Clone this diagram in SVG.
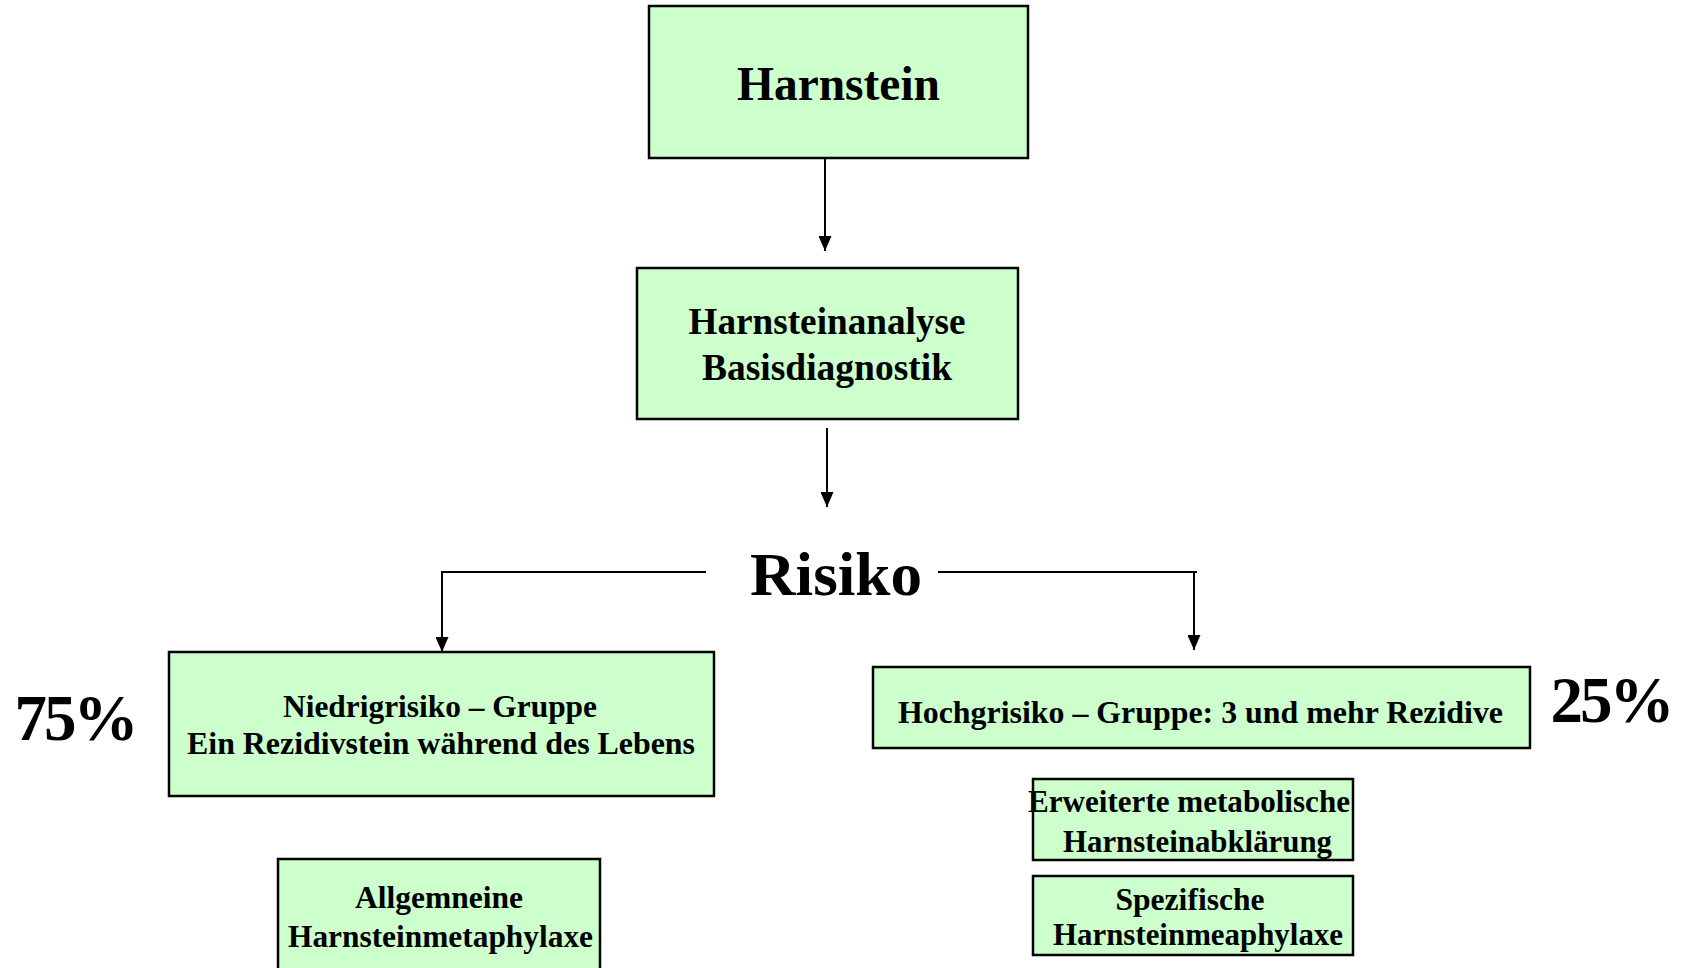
<svg xmlns="http://www.w3.org/2000/svg" width="1693" height="968" viewBox="0 0 1693 968">
<style>
.box{fill:#CCFFCC;stroke:#000;stroke-width:2.5}
.t{font-family:"Liberation Serif","Times New Roman",serif;font-weight:bold;fill:#000;text-anchor:middle}
.s{font-size:31.5px}
.line{fill:none;stroke:#000;stroke-width:2}
.pct{font-size:65px;letter-spacing:-3px}
</style>
<defs>
<marker id="ah" viewBox="0 0 15 13" refX="15" refY="6.5" markerWidth="15" markerHeight="13" markerUnits="userSpaceOnUse" orient="auto">
<path d="M0,0 L15,6.5 L0,13 Z" fill="#000"/>
</marker>
</defs>
<rect width="1693" height="968" fill="#fff"/>
<g id="connectors">
<line class="line" x1="825" y1="158" x2="825" y2="251" marker-end="url(#ah)"/>
<line class="line" x1="827" y1="428" x2="827" y2="507" marker-end="url(#ah)"/>
<path class="line" d="M706,572 H442 V652" marker-end="url(#ah)"/>
<path class="line" d="M938,572 H1197"/>
<line class="line" x1="1194" y1="572" x2="1194" y2="650" marker-end="url(#ah)"/>
</g>
<g id="harnstein">
<rect class="box" x="649" y="6" width="379" height="152"/>
<text class="t" x="838.5" y="100" font-size="47.5" textLength="203" lengthAdjust="spacingAndGlyphs">Harnstein</text>
</g>
<g id="analyse">
<rect class="box" x="637" y="268" width="381" height="151"/>
<text class="t" x="827" y="334" font-size="37.5" textLength="277" lengthAdjust="spacingAndGlyphs">Harnsteinanalyse</text>
<text class="t" x="827" y="380" font-size="37.5" textLength="250" lengthAdjust="spacingAndGlyphs">Basisdiagnostik</text>
</g>
<g id="risiko">
<text class="t" x="836" y="595" font-size="62" textLength="172" lengthAdjust="spacingAndGlyphs">Risiko</text>
</g>
<g id="niedrig">
<rect class="box" x="169" y="652" width="545" height="144"/>
<text class="t s" x="440" y="717" textLength="314" lengthAdjust="spacingAndGlyphs">Niedrigrisiko – Gruppe</text>
<text class="t s" x="441" y="754" textLength="508" lengthAdjust="spacingAndGlyphs">Ein Rezidivstein während des Lebens</text>
</g>
<g id="pct75">
<text class="t pct" x="75" y="740">75%</text>
</g>
<g id="hoch">
<rect class="box" x="873" y="667" width="657" height="81"/>
<text class="t s" x="1200.5" y="723" textLength="605" lengthAdjust="spacingAndGlyphs">Hochgrisiko – Gruppe: 3 und mehr Rezidive</text>
</g>
<g id="pct25">
<text class="t pct" x="1611" y="722">25%</text>
</g>
<g id="allgemein">
<rect class="box" x="278" y="859" width="322" height="120"/>
<text class="t s" x="439" y="908" textLength="168" lengthAdjust="spacingAndGlyphs">Allgemneine</text>
<text class="t s" x="440.5" y="947" textLength="305" lengthAdjust="spacingAndGlyphs">Harnsteinmetaphylaxe</text>
</g>
<g id="erweitert">
<rect class="box" x="1033" y="779" width="320" height="81"/>
<text class="t s" x="1189" y="812" textLength="322" lengthAdjust="spacingAndGlyphs">Erweiterte metabolische</text>
<text class="t s" x="1197.5" y="852" textLength="269" lengthAdjust="spacingAndGlyphs">Harnsteinabklärung</text>
</g>
<g id="spezifisch">
<rect class="box" x="1033" y="876" width="320" height="79"/>
<text class="t s" x="1190" y="910" textLength="149" lengthAdjust="spacingAndGlyphs">Spezifische</text>
<text class="t s" x="1198" y="945" textLength="290" lengthAdjust="spacingAndGlyphs">Harnsteinmeaphylaxe</text>
</g>
</svg>
